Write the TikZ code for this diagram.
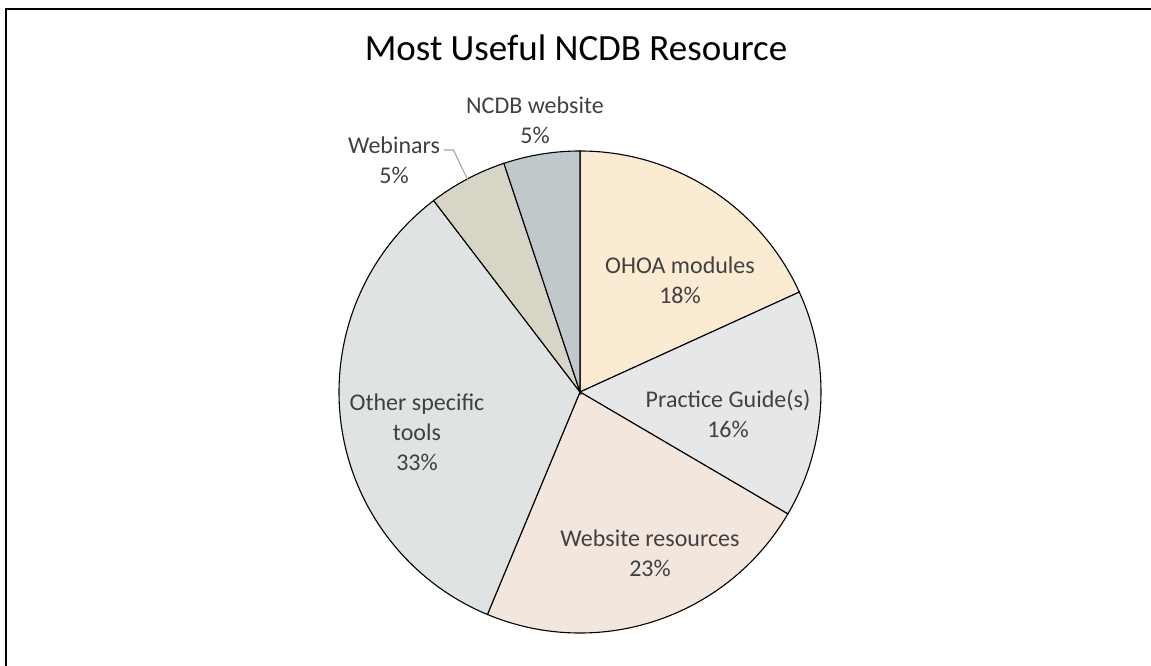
\documentclass[tikz,border=0pt]{standalone}
\usepackage{fontspec}
\setmainfont{Carlito}
\usepackage{tikz}
\definecolor{ohoa}{HTML}{FAEBD2}
\definecolor{guide}{HTML}{E6E7E9}
\definecolor{webres}{HTML}{F3E6DD}
\definecolor{tools}{HTML}{E0E3E4}
\definecolor{webinar}{HTML}{D8D5C6}
\definecolor{ncdbweb}{HTML}{BFC8CA}
\definecolor{labelgray}{HTML}{404040}
\tikzset{
	slice/.style={line width=1.1pt,draw=black},
	pielabel/.style={align=center,text=labelgray,font=\fontsize{24}{30}\selectfont},
	leader/.style={line width=1.1pt,draw=black!35}
}

\begin{document}
\begin{tikzpicture}[x=1pt,y=1pt]
	\useasboundingbox (0,0) rectangle (1151,666);
	\draw[line width=2pt] (6,0) -- (6,657) -- (1151,657);
	\node[font=\fontsize{37}{44}\selectfont] (title) at (576,618) {Most Useful NCDB Resource};
	\coordinate (pie) at (580,274);
	\foreach \a/\b/\c in {24.5/90/ohoa,-30.4/24.5/guide,-112.6/-30.4/webres,127.4/247.4/tools,108.4/127.4/webinar,90/108.4/ncdbweb}{
		\filldraw[slice,fill=\c] (pie) -- ++(\a:241pt) arc[start angle=\a,end angle=\b,radius=241pt] -- cycle;}
	\node[pielabel] (ohoa) at (680,386) {OHOA modules\\18\%};
	\node[pielabel] (guide) at (728,252) {Practice Guide(s)\\16\%};
	\node[pielabel] (webres) at (650,113) {Website resources\\23\%};
	\node[pielabel] (tools) at (417,234) {Other specific\\tools\\33\%};
	\node[pielabel] (webinar) at (394,506) {Webinars\\5\%};
	\node[pielabel] (ncdbweb) at (535,546) {NCDB website\\5\%};
	\coordinate (webedge) at ([shift={(117.9:239pt)}]pie);
	\draw[leader] ([yshift=10pt]webinar.east) -- ++(10,0) -- (webedge);
\end{tikzpicture}
\end{document}
